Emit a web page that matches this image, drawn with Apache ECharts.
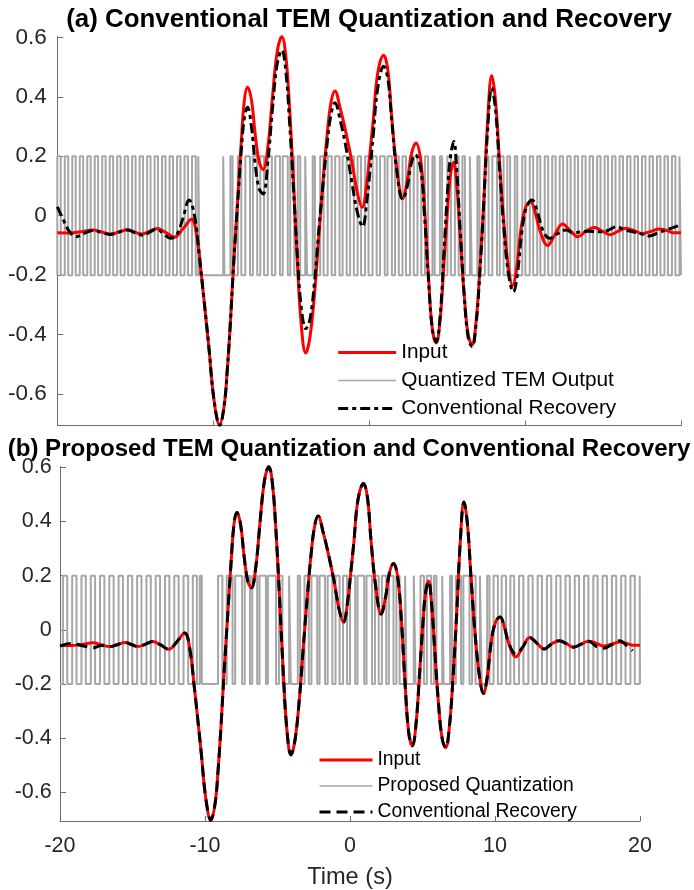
<!DOCTYPE html>
<html>
<head>
<meta charset="utf-8">
<script src="https://cdn.jsdelivr.net/npm/echarts@6/dist/echarts.min.js"></script>
<style>
html,body{margin:0;padding:0;background:#fff;}
#chart{width:694px;height:890px;}
</style>
</head>
<body>
<div id="chart"></div>
<script>
// ---------------- data ----------------
const timeIn = [-20,-19.2,-18.5,-17.7,-17.15,-16.6,-16.05,-15.5,-15.05,-14.6,-14.1,-13.6,-13.05,-12.5,-11.95,-11.4,-11.05,-10.74,-10.5,-10.25,-9.95,-9.6,-9.3,-9.1,-8.9,-8.7,-8.45,-8.2,-8.0,-7.8,-7.55,-7.3,-7.05,-6.8,-6.5,-6.2,-5.9,-5.6,-5.35,-5.1,-4.85,-4.6,-4.35,-4.07,-3.8,-3.5,-3.2,-2.95,-2.7,-2.45,-2.2,-1.85,-1.45,-1.1,-0.75,-0.45,-0.15,0.05,0.26,0.55,0.93,1.2,1.45,1.75,2.15,2.45,2.72,3.0,3.3,3.55,3.8,4.05,4.3,4.55,4.8,5.05,5.22,5.42,5.62,5.85,6.1,6.35,6.6,6.85,7.1,7.35,7.6,7.86,8.1,8.35,8.65,8.95,9.2,9.45,9.75,10.05,10.35,10.65,10.95,11.45,11.9,12.4,12.9,13.4,13.9,14.45,14.95,15.42,15.95,16.45,17.0,17.5,18.05,18.6,19.1,19.5,20];
const input = [-0.057,-0.058,-0.054,-0.048,-0.055,-0.062,-0.055,-0.047,-0.055,-0.062,-0.053,-0.043,-0.056,-0.072,-0.045,-0.012,-0.07,-0.21,-0.33,-0.46,-0.62,-0.703,-0.64,-0.52,-0.36,-0.17,0.04,0.25,0.39,0.433,0.39,0.27,0.18,0.155,0.23,0.4,0.55,0.602,0.54,0.36,0.11,-0.16,-0.37,-0.462,-0.41,-0.26,-0.05,0.12,0.27,0.38,0.42,0.36,0.27,0.18,0.075,0.028,0.11,0.21,0.32,0.48,0.54,0.49,0.33,0.17,0.058,0.12,0.21,0.245,0.19,0.03,-0.2,-0.38,-0.428,-0.35,-0.16,0.04,0.14,0.18,0.1,-0.08,-0.27,-0.4,-0.435,-0.36,-0.18,0.05,0.32,0.472,0.39,0.19,-0.03,-0.18,-0.235,-0.18,-0.04,0.03,0.047,0.01,-0.05,-0.1,-0.065,-0.028,-0.05,-0.071,-0.052,-0.04,-0.052,-0.064,-0.053,-0.042,-0.05,-0.06,-0.053,-0.045,-0.05,-0.057,-0.057];

// (a) conventional recovery
const timeRecA = [-20,-19.6,-19.2,-18.75,-18.2,-17.7,-17.15,-16.6,-16.05,-15.5,-15.0,-14.5,-14.0,-13.65,-13.2,-12.75,-12.35,-11.95,-11.55,-11.2,-10.9,-10.6,-10.3,-9.95,-9.58,-9.3,-9.1,-8.9,-8.7,-8.45,-8.2,-8.0,-7.8,-7.55,-7.3,-7.05,-6.8,-6.5,-6.2,-5.9,-5.6,-5.35,-5.1,-4.85,-4.6,-4.35,-4.06,-3.8,-3.5,-3.2,-2.95,-2.7,-2.45,-2.2,-1.85,-1.45,-1.1,-0.75,-0.42,-0.15,0.05,0.26,0.55,0.93,1.2,1.45,1.75,2.15,2.45,2.72,2.95,3.3,3.55,3.8,4.05,4.3,4.55,4.8,5.05,5.22,5.43,5.62,5.85,6.1,6.35,6.6,6.85,7.1,7.35,7.6,7.86,8.1,8.35,8.65,8.95,9.25,9.5,9.8,10.1,10.45,10.8,11.15,11.58,12.1,12.65,13.1,13.5,14.1,14.8,15.3,15.86,16.4,16.9,17.5,17.98,18.5,19.07,19.5,20];
const recoveryA = [0.03,-0.015,-0.055,-0.07,-0.058,-0.05,-0.057,-0.063,-0.055,-0.048,-0.058,-0.066,-0.053,-0.045,-0.06,-0.076,-0.065,-0.01,0.053,0.0,-0.13,-0.28,-0.43,-0.62,-0.705,-0.64,-0.52,-0.36,-0.17,0.03,0.22,0.33,0.365,0.3,0.17,0.09,0.073,0.18,0.36,0.51,0.557,0.49,0.31,0.09,-0.14,-0.31,-0.38,-0.35,-0.22,-0.03,0.11,0.24,0.34,0.38,0.32,0.22,0.11,0.01,-0.037,0.05,0.15,0.27,0.43,0.503,0.46,0.32,0.16,0.055,0.1,0.18,0.205,0.16,0.0,-0.21,-0.38,-0.425,-0.34,-0.12,0.1,0.2,0.25,0.15,-0.06,-0.27,-0.41,-0.44,-0.37,-0.19,0.04,0.29,0.43,0.36,0.17,-0.05,-0.2,-0.256,-0.2,-0.05,0.03,0.053,0.01,-0.05,-0.076,-0.06,-0.048,-0.058,-0.055,-0.052,-0.054,-0.05,-0.037,-0.048,-0.054,-0.062,-0.068,-0.058,-0.048,-0.04,-0.031];

// (b) conventional recovery of the proposed quantization (same time grid as input, ends before 20)
const recoveryB = [-0.06,-0.05,-0.058,-0.066,-0.058,-0.062,-0.055,-0.047,-0.055,-0.062,-0.053,-0.043,-0.056,-0.072,-0.045,-0.012,-0.07,-0.21,-0.33,-0.46,-0.62,-0.703,-0.64,-0.52,-0.36,-0.17,0.04,0.25,0.39,0.433,0.39,0.27,0.18,0.155,0.23,0.4,0.55,0.602,0.54,0.36,0.11,-0.16,-0.37,-0.462,-0.41,-0.26,-0.05,0.12,0.27,0.38,0.42,0.36,0.27,0.18,0.075,0.028,0.11,0.21,0.32,0.48,0.54,0.49,0.33,0.17,0.058,0.12,0.21,0.245,0.19,0.03,-0.2,-0.38,-0.428,-0.35,-0.16,0.04,0.14,0.18,0.1,-0.08,-0.27,-0.4,-0.435,-0.36,-0.18,0.05,0.32,0.472,0.39,0.19,-0.03,-0.18,-0.235,-0.18,-0.04,0.03,0.047,0.01,-0.05,-0.09,-0.065,-0.028,-0.05,-0.071,-0.052,-0.04,-0.052,-0.064,-0.053,-0.042,-0.062,-0.068,-0.055,-0.04,-0.06,-0.077];

// quantizer output: high intervals [start, end]; output is low elsewhere
const quantLevels = [-0.2, 0.2];
const quantA = [[-20,-19.78],[-19.52,-19.3],[-19.04,-18.82],[-18.56,-18.34],[-18.08,-17.86],[-17.6,-17.38],[-17.12,-16.9],[-16.64,-16.42],[-16.16,-15.94],[-15.68,-15.46],[-15.2,-14.98],[-14.72,-14.5],[-14.24,-14.02],[-13.76,-13.54],[-13.28,-13.06],[-12.8,-12.58],[-12.32,-12.1],[-11.84,-11.62],[-11.36,-11.12],[-10.96,-10.88],
[-9.36,-9.28],[-8.9,-8.76],[-8.42,-8.2],[-7.94,-7.64],[-7.46,-7.18],[-6.98,-6.74],[-6.5,-6.24],[-6.02,-5.72],[-5.54,-5.22],[-5.06,-4.8],[-4.58,-4.42],[-4.1,-3.98],[-3.62,-3.48],[-3.14,-2.92],[-2.66,-2.4],[-2.18,-1.9],[-1.7,-1.44],[-1.22,-0.98],[-0.74,-0.52],[-0.26,-0.04],[0.22,0.48],[0.7,1.0],[1.18,1.46],[1.66,1.9],[2.14,2.36],[2.62,2.86],[3.1,3.34],[3.58,3.78],[4.06,4.2],[4.54,4.68],[5.02,5.24],[5.5,5.74],[5.98,6.14],[6.46,6.58],[6.94,7.08],[7.42,7.66],[7.9,8.2],[8.38,8.62],[8.86,9.04],[9.34,9.5],[9.82,10.02],[10.3,10.52],[10.78,10.98],
[11.26,11.48],[11.74,11.96],[12.22,12.44],[12.7,12.92],[13.18,13.4],[13.66,13.88],[14.14,14.36],[14.62,14.84],[15.1,15.32],[15.58,15.8],[16.06,16.28],[16.54,16.76],[17.02,17.24],[17.5,17.72],[17.98,18.2],[18.46,18.68],[18.94,19.16],[19.42,19.64],[19.9,20]];
const quantB = [[-19.8,-19.5],[-19.16,-18.86],[-18.52,-18.22],[-17.88,-17.58],[-17.24,-16.94],[-16.6,-16.3],[-15.96,-15.66],[-15.32,-15.02],[-14.68,-14.38],[-14.04,-13.74],[-13.4,-13.1],[-12.76,-12.46],[-12.12,-11.82],[-11.48,-11.16],[-10.84,-10.56],[-10.36,-10.22],
[-9.1,-8.8],[-8.5,-8.1],[-7.92,-7.44],[-7.26,-6.9],[-6.74,-6.4],[-6.24,-5.8],[-5.66,-5.1],[-4.9,-4.66],[-4.2,-4.08],[-3.6,-3.44],[-3.14,-2.84],[-2.66,-2.26],[-2.1,-1.72],[-1.54,-1.22],[-1.0,-0.72],[-0.48,-0.2],[0.0,0.36],[0.52,0.98],[1.14,1.52],[1.72,1.98],[2.2,2.5],[2.68,3.0],[3.2,3.42],[3.8,3.9],[4.4,4.52],[4.86,5.1],[5.3,5.6],[5.8,5.96],[6.36,6.46],[6.9,7.04],[7.3,7.66],[7.82,8.24],[8.42,8.66],[8.96,9.08],[9.46,9.62],[9.9,10.2],[10.46,10.76],[11.06,11.32],
[11.66,11.96],[12.3,12.6],[12.94,13.24],[13.58,13.88],[14.22,14.52],[14.86,15.16],[15.5,15.8],[16.14,16.44],[16.78,17.08],[17.42,17.72],[18.06,18.36],[18.7,19.0],[19.34,19.64],[19.98,20]];

const xTicks = [-20, -10, 0, 10, 20];
const yTicks = [-0.6, -0.4, -0.2, 0, 0.2, 0.4, 0.6];
const titles = ['(a) Conventional TEM Quantization and Recovery', '(b) Proposed TEM Quantization and Conventional Recovery'];
const legendA = ['Input', 'Quantized TEM Output', 'Conventional Recovery'];
const legendB = ['Input', 'Proposed Quantization', 'Conventional Recovery'];
const xName = 'Time (s)';

// ---------------- build ----------------
function zip(t, v) { const out = []; for (let i = 0; i < v.length; i++) out.push([t[i], v[i]]); return out; }
function steps(pulses, t0, t1) {
  const lo = quantLevels[0], hi = quantLevels[1];
  const d = [[t0, lo]];
  pulses.forEach(p => { d.push([p[0], lo], [p[0], hi], [p[1], hi], [p[1], lo]); });
  d.push([t1, lo]);
  return d;
}

const FONT = '"Liberation Sans", Arial, Helvetica, sans-serif';
const AX = '#6e6e6e';
const TXT = '#262626';
const RED = '#ff0000';
const GRAY = '#a6a6a6';
const dashA = [10, 4, 4, 4];
const dashB = [11, 6];
const SMOOTH = 0.4;

const chart = echarts.init(document.getElementById('chart'), null, {renderer: 'canvas'});

function yAxis(gi, fs, margin) {
  return {
    type: 'value', gridIndex: gi, min: -0.706, max: 0.603,
    axisLine: {show: true, onZero: false, lineStyle: {color: AX, width: 1}},
    axisTick: {show: true, inside: true, length: 6, customValues: yTicks, lineStyle: {color: AX}},
    axisLabel: {customValues: yTicks, fontSize: fs, color: TXT, fontFamily: FONT, margin: margin},
    splitLine: {show: false}
  };
}
function xAxis(gi, withLabels) {
  const a = {
    type: 'value', gridIndex: gi, min: xTicks[0], max: xTicks[xTicks.length - 1], interval: 10,
    axisLine: {show: true, onZero: false, lineStyle: {color: AX, width: 1}},
    axisTick: {show: true, inside: true, length: 5, lineStyle: {color: AX}},
    axisLabel: withLabels ? {fontSize: 21.5, color: TXT, fontFamily: FONT, margin: 14} : {show: false},
    splitLine: {show: false}
  };
  if (withLabels) {
    a.name = xName; a.nameLocation = 'middle'; a.nameGap = 44;
    a.nameTextStyle = {fontSize: 23.6, color: TXT, fontFamily: FONT};
  }
  return a;
}
function legend(names, left, top, w, h, fs, dash) {
  return {
    orient: 'vertical', left: left, top: top, padding: 0, itemWidth: w, itemHeight: h, itemGap: 0,
    selectedMode: false, itemStyle: {opacity: 0},
    textStyle: {fontSize: fs, lineHeight: h, color: '#000', fontFamily: FONT},
    data: [
      {name: names[0], itemStyle: {opacity: 0}, lineStyle: {width: 3, color: RED, type: 'solid'}},
      {name: names[1], itemStyle: {opacity: 0}, lineStyle: {width: 1.6, color: GRAY, type: 'solid'}},
      {name: names[2], itemStyle: {opacity: 0}, lineStyle: {width: 3, color: '#000', type: dash}}
    ]
  };
}
function curve(name, gi, data, color, dash, z) {
  return {name: name, type: 'line', xAxisIndex: gi, yAxisIndex: gi, data: data, symbol: 'none', smooth: SMOOTH,
          lineStyle: {color: color, width: 3, type: dash || 'solid'}, itemStyle: {color: color}, z: z};
}
function quant(name, gi, data) {
  return {name: name, type: 'line', xAxisIndex: gi, yAxisIndex: gi, data: data, symbol: 'none',
          lineStyle: {color: GRAY, width: 2}, itemStyle: {color: GRAY}, z: 1};
}

const recNameB = legendB[2] + ' ';
const option = {
  animation: false,
  backgroundColor: '#ffffff',
  graphic: [
    {type: 'text', x: 369, y: 20, style: {text: titles[0], fontSize: 25.9, fontWeight: 'bold', fontFamily: FONT, fill: '#000', textAlign: 'center', textVerticalAlign: 'middle'}},
    {type: 'text', x: 349, y: 449, style: {text: titles[1], fontSize: 24.1, fontWeight: 'bold', fontFamily: FONT, fill: '#000', textAlign: 'center', textVerticalAlign: 'middle'}}
  ],
  grid: [
    {left: 57.3, top: 36.5, width: 623.7, height: 389, containLabel: false},
    {left: 60, top: 466.5, width: 580, height: 357, containLabel: false}
  ],
  xAxis: [xAxis(0, false), xAxis(1, true)],
  yAxis: [yAxis(0, 22.5, 10.5), yAxis(1, 21.5, 8.3)],
  legend: [
    legend(legendA, 336.7, 338.5, 58, 28, 20.8, dashA),
    legend([legendB[0], legendB[1], recNameB], 318, 747, 53, 26, 19.3, dashB)
  ],
  series: [
    quant(legendA[1], 0, steps(quantA, -20, 20)),
    curve(legendA[0], 0, zip(timeIn, input), RED, null, 2),
    curve(legendA[2], 0, zip(timeRecA, recoveryA), '#000', dashA, 3),
    quant(legendB[1], 1, steps(quantB, -20, 20)),
    curve(legendB[0], 1, zip(timeIn, input), RED, null, 2),
    curve(recNameB, 1, zip(timeIn, recoveryB), '#000', dashB, 3)
  ]
};
chart.setOption(option);
</script>
</body>
</html>
